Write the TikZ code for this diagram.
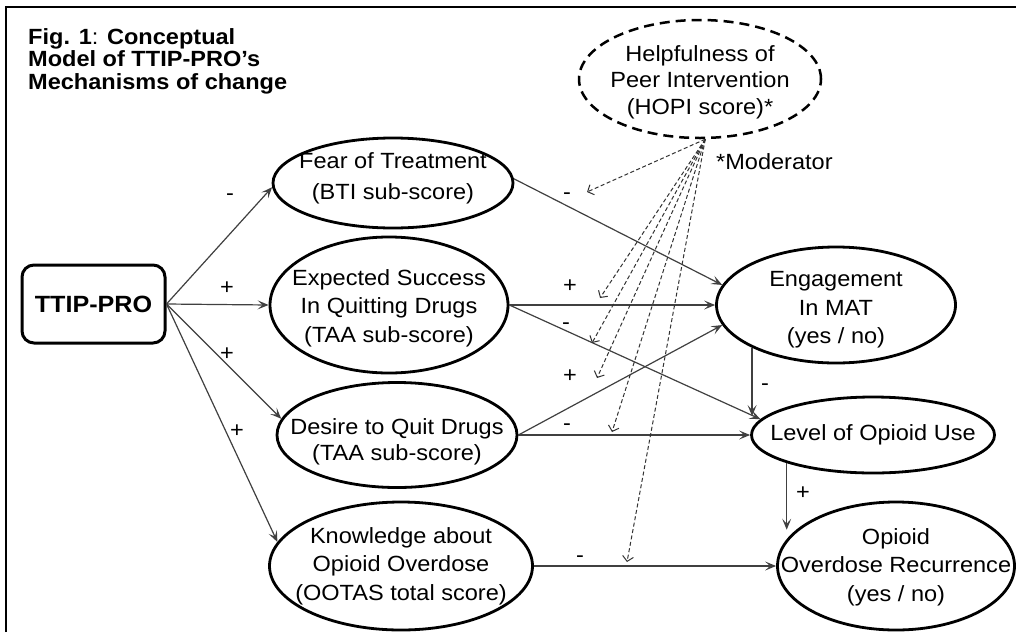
\documentclass[tikz,border=0pt]{standalone}
\usepackage{fontspec}
\setmainfont{Liberation Sans}[FakeStretch=1.07]
\usetikzlibrary{shapes.geometric,arrows.meta,calc}
\begin{document}
\begin{tikzpicture}[x=1pt,y=-1pt,
  font=\fontsize{22}{28.5}\selectfont,
  ell/.style={ellipse, draw=black, line width=2.8pt, inner sep=0pt},
  txt/.style={align=center, inner sep=0pt},
  conn/.style={draw=black!75, line width=1.2pt, -{Stealth[length=11pt,width=9pt,inset=5pt]}},
  modarr/.style={draw=black!80, line width=1pt, dash pattern=on 4pt off 2.5pt, -{Straight Barb[length=5pt,width=11pt]}},
  sign/.style={inner sep=0pt, text height=0.75em, text depth=0.25em},
]
\useasboundingbox (0,0) rectangle (1016,632);
\fill[white] (0,0) rectangle (1016,632);
% frame (cropped)
\draw[line width=2.2pt] (6,632) -- (6,7) -- (1016,7);

% title
\node[anchor=north west, align=left, inner sep=0pt, font=\bfseries\fontsize{22}{22.5}\selectfont] (title) at (28,28)
  {Fig. 1\textmd{:} Conceptual\\Model of TTIP-PRO’s\\Mechanisms of change};

% nodes
\node[draw, line width=3pt, rounded corners=12pt, minimum width=143pt, minimum height=78pt,
  font=\bfseries\fontsize{23.5}{28}\selectfont] (ttip) at (93.5,304) {TTIP-PRO};

\node[ell, minimum width=240pt, minimum height=90pt,
  label={[txt,yshift=5pt,font=\fontsize{22}{31}\selectfont]center:{Fear of Treatment\\(BTI sub-score)}}] (fear) at (393,183) {};
\node[ell, minimum width=238pt, minimum height=136pt,
  label={[txt,yshift=-3pt]center:{Expected Success\\In Quitting Drugs\\(TAA sub-score)}}] (exp) at (389,305) {};
\node[ell, minimum width=240pt, minimum height=105pt,
  label={[txt,yshift=-7pt,font=\fontsize{22}{26}\selectfont]center:{Desire to Quit Drugs\\(TAA sub-score)}}] (des) at (397,435) {};
\node[ell, minimum width=263pt, minimum height=128pt,
  label={[txt]center:{Knowledge about\\Opioid Overdose\\(OOTAS total score)}}] (know) at (401,566) {};
\node[ell, minimum width=239pt, minimum height=116pt,
  label={[txt,yshift=-5pt]center:{Engagement\\In MAT\\(yes / no)}}] (eng) at (836,305) {};
\node[ell, minimum width=243pt, minimum height=76pt,
  label={[txt]center:{Level of Opioid Use}}] (lev) at (873,435) {};
\node[ell, minimum width=237pt, minimum height=128pt,
  label={[txt,yshift=-1pt]center:{Opioid\\Overdose Recurrence\\(yes / no)}}] (over) at (896,566) {};
\node[ellipse, draw=black, line width=2.5pt, dash pattern=on 10pt off 6pt, inner sep=0pt,
  minimum width=242pt, minimum height=118pt,
  label={[txt,yshift=-3pt,font=\fontsize{22}{26.5}\selectfont]center:{Helpfulness of\\Peer Intervention\\(HOPI score)*}}] (hopi) at (700,79) {};

\node[anchor=west, inner sep=0pt] (mod) at (716,162) {*Moderator};

% connectors
\draw[conn] (ttip.east) -- (fear.182);
\draw[conn] (ttip.east) -- (exp.west);
\draw[conn] (ttip.east) -- (des.172);
\draw[conn] (ttip.east) -- (know.169);
\draw[conn] (fear.2) -- (eng.170);
\draw[conn] (exp.east) -- (eng.west);
\draw[conn] (exp.east) -- (lev.172);
\draw[conn] (des.east) -- (eng.190);
\draw[conn] (des.east) -- (lev.west);
\draw[conn] (know.east) -- (over.west);
\draw[conn] (eng.207) -- (eng.207 |- lev.170);
\draw[conn] (lev.198) -- (lev.198 |- over.160);

% moderator arrows
\coordinate (m1) at (587,192);
\coordinate (m2) at (600,298);
\coordinate (m3) at (592,343);
\coordinate (m4) at (597,378);
\coordinate (m5) at (612,432);
\coordinate (m6) at (627,562);
\foreach \m in {m1,m2,m3,m4,m5,m6} \draw[modarr] (hopi.275) -- (\m);

% signs
\node[sign] (s1) at (230,198) {-};
\node[sign] (s2) at (227,292) {+};
\node[sign] (s3) at (227,358) {+};
\node[sign] (s4) at (237,435) {+};
\node[sign] (s5) at (567,197) {-};
\node[sign] (s6) at (570,290) {+};
\node[sign] (s7) at (566,327) {-};
\node[sign] (s8) at (570,380) {+};
\node[sign] (s9) at (567,428) {-};
\node[sign] (s10) at (580,560) {-};
\node[sign] (s11) at (765,388) {-};
\node[sign] (s12) at (803,497) {+};
\end{tikzpicture}
\end{document}
